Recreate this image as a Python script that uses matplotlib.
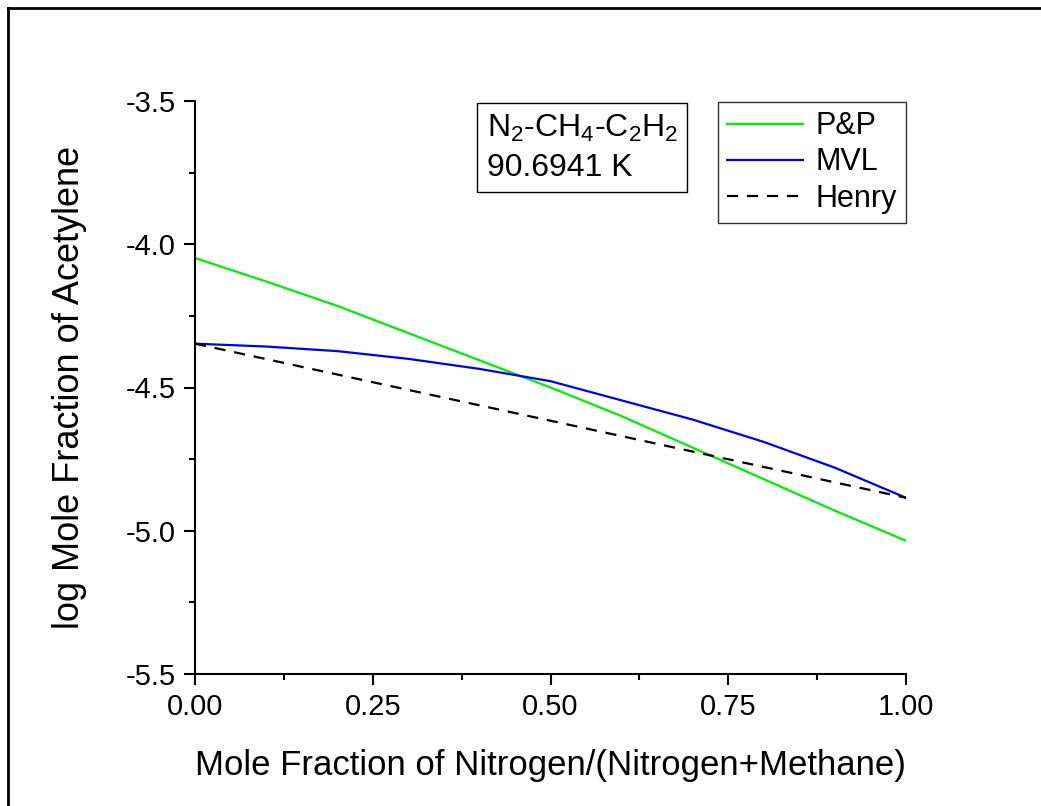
import matplotlib
matplotlib.use("Agg")
import matplotlib.pyplot as plt
from matplotlib.lines import Line2D
from matplotlib.ticker import MultipleLocator, FormatStrFormatter

plt.rcParams['font.family'] = ['Liberation Sans', 'DejaVu Sans']
plt.rcParams['mathtext.fontset'] = 'custom'
plt.rcParams['mathtext.rm'] = 'Liberation Sans'
plt.rcParams['mathtext.it'] = 'Liberation Sans'

# Data
x_frac = [0.0, 0.1, 0.2, 0.3, 0.4, 0.5, 0.6, 0.7, 0.8, 0.9, 1.0]
pp_vals = [-4.048, -4.130, -4.215, -4.310, -4.405, -4.500, -4.600, -4.710, -4.820, -4.930, -5.035]
mvl_vals = [-4.347, -4.357, -4.373, -4.400, -4.435, -4.478, -4.545, -4.612, -4.690, -4.780, -4.885]
henry_x = [0.0, 1.0]
henry_vals = [-4.347, -4.885]

xticks = [0.00, 0.25, 0.50, 0.75, 1.00]
yticks = [-5.5, -5.0, -4.5, -4.0, -3.5]

W, H = 1041, 806
fig = plt.figure(figsize=(W / 100, H / 100), dpi=100)
ax = fig.add_axes([195 / W, 132 / H, (906 - 195) / W, (674 - 101) / H])

ax.plot(x_frac, pp_vals, color='#00ee00', lw=1.6, label='P&P')
ax.plot(x_frac, mvl_vals, color='#0000ee', lw=1.6, label='MVL')
ax.plot(henry_x, henry_vals, color='black', lw=1.6, ls=(0, (5, 4)), label='Henry')

ax.set_xlim(0, 1)
ax.set_ylim(-5.5, -3.5)
ax.set_xticks(xticks)
ax.set_yticks(yticks)
ax.xaxis.set_major_formatter(FormatStrFormatter('%.2f'))
ax.yaxis.set_major_formatter(FormatStrFormatter('%.1f'))
ax.xaxis.set_minor_locator(MultipleLocator(0.125))
ax.yaxis.set_minor_locator(MultipleLocator(0.25))

for s in ['top', 'right']:
    ax.spines[s].set_visible(False)
for s in ['left', 'bottom']:
    ax.spines[s].set_linewidth(1.5)

ax.tick_params(which='major', direction='out', length=8, width=1.5, labelsize=21, pad=6)
ax.tick_params(which='minor', direction='out', length=4, width=1.5)

ax.set_xlabel('Mole Fraction of Nitrogen/(Nitrogen+Methane)', fontsize=25, labelpad=20)
ax.set_ylabel('log Mole Fraction of Acetylene', fontsize=26, labelpad=28)

leg = ax.legend(loc='upper right', bbox_to_anchor=(1.0, 0.998), borderaxespad=0,
                fontsize=22, frameon=True, fancybox=False, handlelength=2.5,
                handletextpad=0.4, labelspacing=0.2, borderpad=0.3)
leg.get_frame().set_edgecolor('black')
leg.get_frame().set_linewidth(1.0)

ax.text(0.41, 0.98, 'N$_2$-CH$_4$-C$_2$H$_2$\n90.6941 K', transform=ax.transAxes,
        fontsize=23, va='top', ha='left', linespacing=1.4,
        bbox=dict(boxstyle='square,pad=0.3', fc='white', ec='black', lw=1.0))

# partial outer frame (top and left lines)
fig.add_artist(Line2D([8 / W, 1.0], [1 - 8 / H, 1 - 8 / H], transform=fig.transFigure, color='black', lw=2))
fig.add_artist(Line2D([8 / W, 8 / W], [0.0, 1 - 8 / H], transform=fig.transFigure, color='black', lw=2))

fig.savefig('out.png', dpi=100)
